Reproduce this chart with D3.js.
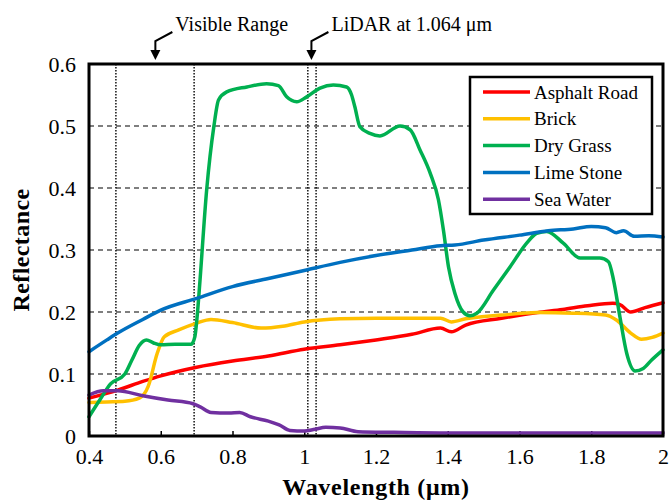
<!DOCTYPE html>
<html>
<head>
<meta charset="utf-8">
<script src="https://cdn.jsdelivr.net/npm/d3@7"></script>
<style>
  body { margin: 0; background: #fff; }
  svg text { font-family: "Liberation Serif", serif; }
</style>
</head>
<body>
<div id="chart"></div>
<script>
const width = 671;
const height = 501;
const margins = {top: 64, right: 8, bottom: 65, left: 89};

// series, [wavelength (um), reflectance]
const asphaltRoad = [
  [0.40, 0.061], [0.48, 0.074], [0.55, 0.088], [0.60, 0.097], [0.70, 0.111],
  [0.80, 0.121], [0.90, 0.129], [1.00, 0.140], [1.10, 0.147], [1.20, 0.155],
  [1.30, 0.164], [1.38, 0.174], [1.41, 0.168], [1.45, 0.179], [1.55, 0.190],
  [1.65, 0.199], [1.72, 0.204], [1.79, 0.210], [1.86, 0.214], [1.88, 0.212],
  [1.91, 0.200], [1.95, 0.207], [2.00, 0.215]
];
const brick = [
  [0.40, 0.054], [0.45, 0.055], [0.50, 0.056], [0.54, 0.061], [0.565, 0.080],
  [0.59, 0.133], [0.61, 0.160], [0.65, 0.171], [0.70, 0.182], [0.74, 0.188],
  [0.80, 0.183], [0.88, 0.174], [0.94, 0.177], [1.00, 0.184], [1.10, 0.189],
  [1.20, 0.190], [1.30, 0.190], [1.38, 0.190], [1.41, 0.184], [1.45, 0.189],
  [1.55, 0.195], [1.65, 0.199], [1.75, 0.198], [1.84, 0.195], [1.87, 0.187],
  [1.91, 0.166], [1.94, 0.156], [1.97, 0.159], [2.00, 0.166]
];
const dryGrass = [
  [0.40, 0.031], [0.43, 0.058], [0.46, 0.084], [0.50, 0.100], [0.52, 0.123],
  [0.54, 0.146], [0.56, 0.155], [0.58, 0.150], [0.60, 0.147], [0.64, 0.148],
  [0.685, 0.148], [0.695, 0.160], [0.703, 0.203], [0.708, 0.240], [0.728, 0.397],
  [0.748, 0.499], [0.761, 0.542], [0.784, 0.555], [0.84, 0.563], [0.895, 0.568],
  [0.928, 0.565], [0.951, 0.547], [0.979, 0.539], [1.007, 0.547], [1.044, 0.561],
  [1.081, 0.566], [1.118, 0.563], [1.132, 0.550], [1.141, 0.531], [1.155, 0.499],
  [1.183, 0.488], [1.211, 0.484], [1.267, 0.500], [1.295, 0.494], [1.323, 0.461],
  [1.351, 0.424], [1.374, 0.381], [1.388, 0.332], [1.402, 0.273], [1.42, 0.230],
  [1.443, 0.200], [1.462, 0.194], [1.481, 0.198], [1.527, 0.235], [1.574, 0.273],
  [1.62, 0.311], [1.648, 0.327], [1.676, 0.330], [1.722, 0.311], [1.769, 0.287],
  [1.824, 0.287], [1.848, 0.281], [1.862, 0.252], [1.88, 0.192], [1.899, 0.133],
  [1.922, 0.105], [1.945, 0.109], [1.969, 0.123], [2.00, 0.139]
];
const limeStone = [
  [0.40, 0.136], [0.45, 0.155], [0.48, 0.166], [0.55, 0.188], [0.60, 0.203],
  [0.70, 0.222], [0.80, 0.241], [0.90, 0.254], [1.00, 0.267], [1.10, 0.280],
  [1.20, 0.291], [1.30, 0.300], [1.38, 0.307], [1.42, 0.308], [1.50, 0.316],
  [1.60, 0.324], [1.68, 0.331], [1.75, 0.334], [1.80, 0.338], [1.84, 0.336],
  [1.87, 0.328], [1.89, 0.331], [1.92, 0.322], [1.96, 0.323], [2.00, 0.321]
];
const seaWater = [
  [0.40, 0.066], [0.44, 0.073], [0.48, 0.073], [0.55, 0.065], [0.62, 0.058],
  [0.69, 0.052], [0.71, 0.047], [0.74, 0.038], [0.79, 0.037], [0.82, 0.038],
  [0.85, 0.031], [0.90, 0.024], [0.93, 0.018], [0.96, 0.009], [1.00, 0.008],
  [1.03, 0.011], [1.06, 0.014], [1.10, 0.013], [1.15, 0.007], [1.25, 0.006],
  [1.40, 0.005], [1.60, 0.005], [1.80, 0.005], [2.00, 0.005]
];

const seriesNames = ["Asphalt Road", "Brick", "Dry Grass", "Lime Stone", "Sea Water"];
const seriesData = [asphaltRoad, brick, dryGrass, limeStone, seaWater];
const seriesColors = ["#ff0000", "#ffc000", "#00b050", "#0070c0", "#7030a0"];

const xTicks = [0.4, 0.6, 0.8, 1, 1.2, 1.4, 1.6, 1.8, 2];
const yTicks = [0, 0.1, 0.2, 0.3, 0.4, 0.5, 0.6];
const markerLines = [0.475, 0.693, 1.01, 1.033];
const annotations = [
  {label: "Visible Range", at: 0.585},
  {label: "LiDAR at 1.064 \u03bcm", at: 1.02}
];

const svg = d3.select("#chart")
  .append("svg")
  .attr("width", width)
  .attr("height", height);

const xScale = d3.scaleLinear()
  .domain([0.4, 2])
  .range([margins.left, width - margins.right]);

const yScale = d3.scaleLinear()
  .domain([0, 0.6])
  .range([height - margins.bottom, margins.top]);

// dashed horizontal grid
svg.append("g")
  .selectAll("line")
  .data(yTicks.slice(1, -1))
  .join("line")
    .attr("x1", margins.left)
    .attr("x2", width - margins.right)
    .attr("y1", d => yScale(d))
    .attr("y2", d => yScale(d))
    .attr("stroke", "#000")
    .attr("stroke-width", 1.2)
    .attr("stroke-dasharray", "5,4");

// dotted marker lines
svg.append("g")
  .selectAll("line")
  .data(markerLines)
  .join("line")
    .attr("x1", d => xScale(d))
    .attr("x2", d => xScale(d))
    .attr("y1", margins.top)
    .attr("y2", height - margins.bottom)
    .attr("stroke", "#000")
    .attr("stroke-width", 1.4)
    .attr("stroke-dasharray", "1.5,1.5");

// x axis
svg.append("g")
  .attr("transform", "translate(0," + (height - margins.bottom) + ")")
  .call(d3.axisBottom(xScale).tickValues(xTicks).tickSize(-5).tickPadding(12).tickFormat(d3.format("")))
  .call(g => g.select(".domain").remove())
  .call(g => g.selectAll("line").attr("stroke-width", 1.5))
  .selectAll("text")
    .attr("font-size", "22px")
    .attr("font-family", "Liberation Serif")
    .attr("fill", "#000");

// y axis
svg.append("g")
  .attr("transform", "translate(" + margins.left + ",0)")
  .call(d3.axisLeft(yScale).tickValues(yTicks).tickSize(0).tickPadding(13).tickFormat(d3.format("")))
  .call(g => g.select(".domain").remove())
  .selectAll("text")
    .attr("font-size", "22px")
    .attr("font-family", "Liberation Serif")
    .attr("fill", "#000");

const line = d3.line()
  .x(d => xScale(d[0]))
  .y(d => yScale(d[1]))
  .curve(d3.curveMonotoneX);

svg.append("g")
  .attr("fill", "none")
  .attr("stroke-width", 3.5)
  .attr("stroke-linejoin", "round")
  .attr("stroke-linecap", "round")
  .selectAll("path")
  .data(seriesData)
  .join("path")
    .attr("stroke", (d, i) => seriesColors[i])
    .attr("d", line);

// frame
svg.append("rect")
  .attr("x", margins.left)
  .attr("y", margins.top)
  .attr("width", width - margins.left - margins.right)
  .attr("height", height - margins.top - margins.bottom)
  .attr("fill", "none")
  .attr("stroke", "#000")
  .attr("stroke-width", 3);

// legend
const legend = svg.append("g").attr("transform", "translate(470,77)");
legend.append("rect")
  .attr("width", 182)
  .attr("height", 137)
  .attr("fill", "#fff")
  .attr("stroke", "#000")
  .attr("stroke-width", 2.5);
const rows = legend.selectAll("g.row")
  .data(seriesNames)
  .join("g")
    .attr("class", "row")
    .attr("transform", (d, i) => "translate(0," + (15 + i * 26.8) + ")");
rows.append("line")
  .attr("x1", 13).attr("x2", 60)
  .attr("stroke", (d, i) => seriesColors[i])
  .attr("stroke-width", 3.5);
rows.append("text")
  .attr("x", 64)
  .attr("dy", "0.35em")
  .attr("font-size", "19px")
  .text(d => d);

// annotations with arrows
const ann = svg.append("g");
annotations.forEach(function (a) {
  const ax = xScale(a.at);
  ann.append("path")
    .attr("d", "M" + (ax + 17) + ",32 L" + ax + ",41 L" + ax + ",52")
    .attr("fill", "none")
    .attr("stroke", "#000")
    .attr("stroke-width", 2);
  ann.append("path")
    .attr("d", "M" + (ax - 5) + ",50 L" + (ax + 5) + ",50 L" + ax + ",60 Z")
    .attr("fill", "#000");
  ann.append("text")
    .attr("x", ax + 20)
    .attr("y", 31)
    .attr("font-size", "20px")
    .text(a.label);
});

// axis titles
svg.append("text")
  .attr("x", (margins.left + width - margins.right) / 2)
  .attr("y", 495)
  .attr("text-anchor", "middle")
  .attr("font-size", "24px")
  .attr("font-weight", "bold")
  .attr("letter-spacing", "0.7px")
  .text("Wavelength (\u03bcm)");

svg.append("text")
  .attr("transform", "translate(29," + ((margins.top + height - margins.bottom) / 2) + ") rotate(-90)")
  .attr("text-anchor", "middle")
  .attr("font-size", "24px")
  .attr("font-weight", "bold")
  .attr("letter-spacing", "0.4px")
  .text("Reflectance");
</script>
</body>
</html>
